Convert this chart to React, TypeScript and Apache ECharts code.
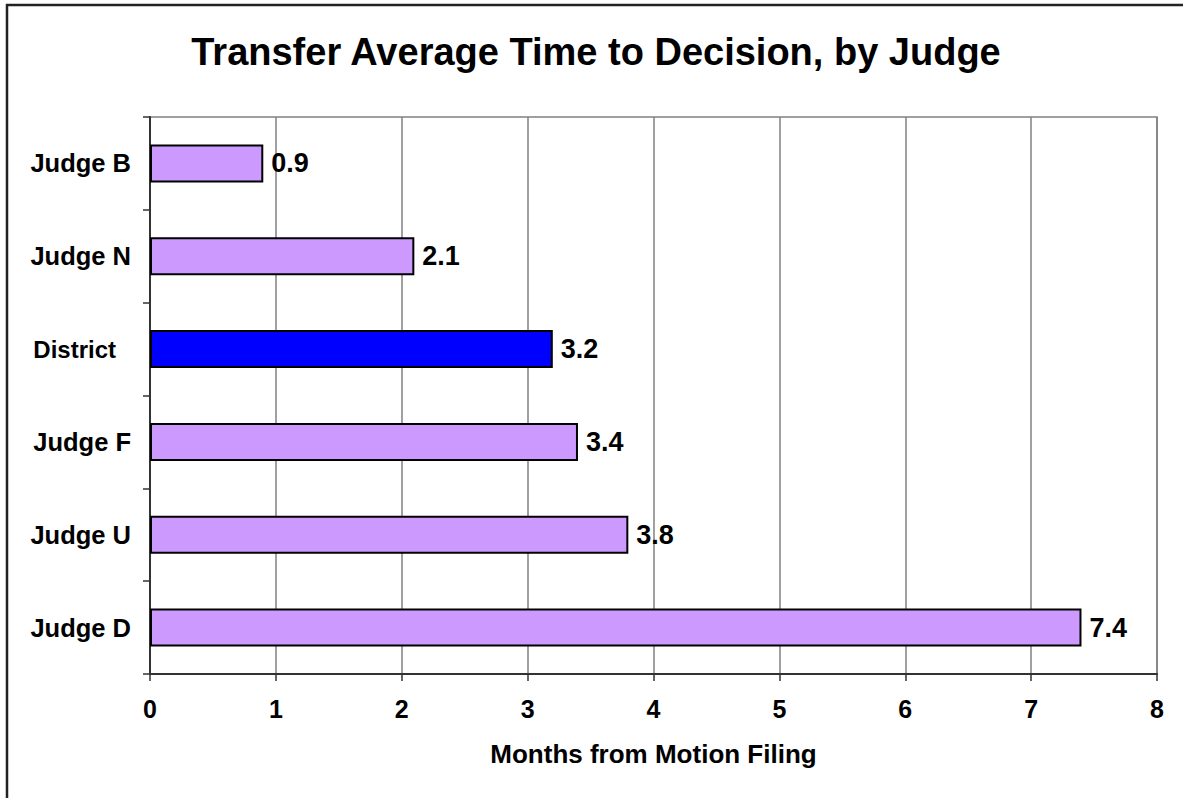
import React, { useEffect, useRef } from "react";
import * as echarts from "echarts";

const titleText = "Transfer Average Time to Decision, by Judge";
const categories = ["Judge B", "Judge N", "District", "Judge F", "Judge U", "Judge D"];
const values = [0.9, 2.1, 3.2, 3.4, 3.8, 7.4];
const highlightCategory = "District";
const xTicks = [0, 1, 2, 3, 4, 5, 6, 7, 8];
const xAxisName = "Months from Motion Filing";

const FONT = "Arial, 'Liberation Sans', sans-serif";

export default function App() {
  const ref = useRef<HTMLDivElement>(null);
  useEffect(() => {
    if (!ref.current) return;
    const chart = echarts.init(ref.current, null, { renderer: "svg" });
    const data = categories.map((c, i) => ({
      value: values[i],
      itemStyle: {
        color: c === highlightCategory ? "#0000FF" : "#CC99FF",
        borderColor: "#000",
        borderWidth: 2,
      },
    }));
    chart.setOption({
      animation: false,
      backgroundColor: "#fff",
      graphic: [
        {
          type: "rect",
          shape: { x: 7, y: 5, width: 1300, height: 900 },
          style: { fill: "none", stroke: "#222", lineWidth: 2.5 },
          silent: true,
          z: 100,
        },
        {
          type: "text",
          x: 596,
          y: 52,
          style: {
            text: titleText,
            font: `bold 38px ${FONT}`,
            fill: "#000",
            textAlign: "center",
            textVerticalAlign: "middle",
          },
        },
      ],
      grid: {
        left: 150,
        top: 117,
        right: 26,
        bottom: 124,
        show: true,
        borderColor: "#808080",
        borderWidth: 1.5,
        containLabel: false,
      },
      xAxis: {
        type: "value",
        min: xTicks[0],
        max: xTicks[xTicks.length - 1],
        interval: 1,
        name: xAxisName,
        nameLocation: "middle",
        nameGap: 67,
        nameTextStyle: { fontFamily: FONT, fontWeight: "bold", fontSize: 26, color: "#000" },
        axisLine: { show: true, lineStyle: { color: "#333", width: 2 } },
        axisTick: { show: true, length: 7, lineStyle: { color: "#333", width: 1.5 } },
        axisLabel: { fontFamily: FONT, fontWeight: "bold", fontSize: 25, color: "#000", margin: 22 },
        splitLine: { show: true, lineStyle: { color: "#808080", width: 1.5 } },
      },
      yAxis: {
        type: "category",
        data: categories,
        inverse: true,
        axisLine: { show: true, lineStyle: { color: "#333", width: 2 } },
        axisTick: { show: true, length: 7, lineStyle: { color: "#333", width: 1.5 } },
        axisLabel: {
          fontFamily: FONT,
          fontWeight: "bold",
          fontSize: 25.5,
          color: "#000",
          margin: 19,
          formatter: (v: string) => (v === highlightCategory ? `{d|${v}}` : v),
          rich: {
            d: { fontFamily: FONT, fontWeight: "bold", fontSize: 24, color: "#000", padding: [0, 15, 0, 0] },
          },
        },
        splitLine: { show: false },
      },
      series: [
        {
          type: "bar",
          data,
          barCategoryGap: "59%",
          label: {
            show: true,
            position: "right",
            distance: 8,
            fontFamily: FONT,
            fontWeight: "bold",
            fontSize: 27,
            color: "#000",
            formatter: (p: any) => Number(p.value).toFixed(1),
          },
        },
      ],
    });
    return () => chart.dispose();
  }, []);
  return (
    <div
      ref={ref}
      style={{ position: "fixed", left: 0, top: 0, width: 1183, height: 798 }}
    />
  );
}
